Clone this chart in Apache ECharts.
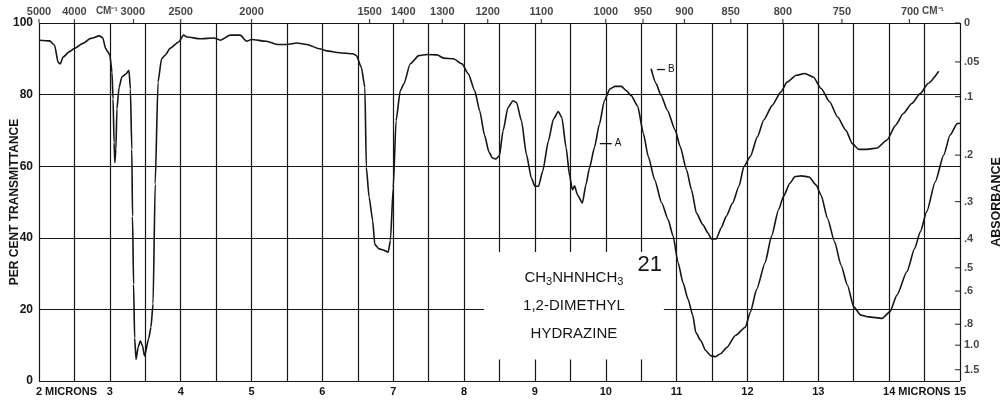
<!DOCTYPE html>
<html>
<head>
<meta charset="utf-8">
<script src="https://cdn.jsdelivr.net/npm/echarts/dist/echarts.min.js"></script>
<style>
  html, body { margin: 0; padding: 0; background: #fff; }
  #chart { width: 1005px; height: 400px; }
</style>
</head>
<body>
<div id="chart"></div>
<script>
// Infrared spectrum of 1,2-dimethyl hydrazine: wavelength (microns) vs per cent transmittance.

// Trace A: [wavelength µm, % transmittance]
const traceA = [
  [2.00,95.2],[2.15,95.0],[2.22,93.8],[2.27,89.0],[2.30,88.6],[2.34,90.5],[2.43,92.0],[2.50,92.9],
  [2.62,94.3],[2.73,95.7],[2.85,96.4],[2.90,95.9],[2.94,92.9],[2.97,92.0],[3.00,91.0],[3.03,86.3],
  [3.045,78.8],[3.06,66.6],[3.07,61.0],[3.085,64.7],[3.10,76.0],[3.13,82.0],[3.17,85.0],[3.23,85.8],
  [3.27,86.8],[3.29,81.6],[3.31,64.7],[3.32,46.0],[3.335,27.0],[3.35,12.0],[3.37,6.0],[3.40,9.5],
  [3.43,11.2],[3.46,9.9],[3.49,7.0],[3.55,12.0],[3.58,15.0],[3.61,21.5],[3.64,55.0],[3.68,83.5],
  [3.73,90.0],[3.78,91.0],[3.85,92.9],[3.97,94.7],[4.04,96.6],[4.09,96.1],[4.28,95.6],[4.47,95.8],
  [4.56,95.2],[4.70,96.6],[4.84,96.6],[4.93,94.9],[5.00,95.4],[5.21,94.9],[5.36,94.0],[5.50,94.0],
  [5.64,94.4],[5.78,94.0],[5.96,92.8],[6.06,92.2],[6.24,91.7],[6.43,91.4],[6.48,90.9],[6.55,87.6],
  [6.60,82.0],[6.62,59.7],[6.66,51.3],[6.71,44.8],[6.74,38.1],[6.80,36.9],[6.87,36.5],[6.93,36.0],
  [6.96,39.3],[7.00,54.0],[7.04,72.7],[7.10,81.1],[7.15,83.0],[7.24,88.6],[7.36,90.9],[7.48,91.2],
  [7.62,91.1],[7.71,90.2],[7.85,90.0],[7.97,88.6],[8.06,85.8],[8.15,81.1],[8.22,75.5],[8.29,68.6],
  [8.35,64.0],[8.40,62.3],[8.45,62.0],[8.50,63.0],[8.55,69.9],[8.62,76.4],[8.69,78.3],[8.74,77.8],
  [8.81,72.7],[8.88,63.3],[8.95,56.7],[9.00,54.4],[9.05,54.4],[9.11,58.6],[9.19,67.0],[9.26,73.1],
  [9.33,75.3],[9.38,73.6],[9.44,65.2],[9.49,57.2],[9.53,53.4],[9.56,54.5],[9.60,52.0],[9.67,49.7],
  [9.72,54.8],[9.77,59.5],[9.84,65.2],[9.91,71.7],[9.98,78.3],[10.06,81.6],[10.13,82.3],[10.22,82.3],
  [10.29,81.1],[10.36,79.7],[10.45,76.8],[10.53,69.2],[10.60,62.7],[10.69,56.2],[10.79,49.7],[10.88,45.1],
  [10.95,40.5],[11.02,33.1],[11.09,27.5],[11.16,22.9],[11.23,18.2],[11.27,13.6],[11.34,11.3],[11.41,8.5],
  [11.48,7.1],[11.55,6.8],[11.62,7.6],[11.71,9.4],[11.83,12.7],[11.97,15.0],[12.04,19.2],[12.13,25.6],
  [12.25,33.1],[12.34,40.5],[12.44,47.9],[12.51,51.6],[12.60,55.3],[12.67,57.1],[12.76,57.3],[12.87,57.0],
  [12.97,54.7],[13.04,51.9],[13.13,45.4],[13.23,38.9],[13.32,32.4],[13.41,26.8],[13.50,20.7],[13.60,18.4],
  [13.71,17.9],[13.90,17.5],[14.01,19.3],[14.11,24.0],[14.25,30.5],[14.36,37.0],[14.44,41.7],[14.53,47.3],
  [14.65,55.6],[14.77,63.1],[14.86,68.7],[14.96,71.9],[15.00,72.0]
];

// Trace B (thinner film, 10.6–14.7 µm): [wavelength µm, % transmittance]
const traceB = [
  [10.64,87.2],[10.71,83.1],[10.78,79.8],[10.87,75.6],[10.98,70.1],[11.05,65.5],[11.14,59.0],[11.21,53.4],
  [11.28,46.9],[11.37,43.7],[11.44,41.4],[11.49,39.7],[11.56,39.7],[11.63,42.8],[11.70,46.0],[11.79,49.7],
  [11.88,54.4],[11.95,59.9],[12.04,62.7],[12.14,68.2],[12.23,72.9],[12.35,77.0],[12.47,80.7],[12.56,83.5],
  [12.69,85.4],[12.81,85.9],[12.93,84.9],[13.04,81.7],[13.16,78.0],[13.27,73.8],[13.39,70.0],[13.48,66.3],
  [13.57,64.7],[13.69,64.7],[13.83,65.1],[13.97,67.3],[14.09,71.4],[14.20,74.7],[14.32,77.5],[14.44,80.3],
  [14.55,83.1],[14.70,86.5]
];

// Wavenumber scale along the top (cm-1)
const wavenumbers = [5000, 4000, 3000, 2500, 2000, 1500, 1400, 1300, 1200, 1100, 1000, 950, 900, 850, 800, 750, 700];

// Absorbance scale along the right edge
const absorbanceTicks = [0, 0.05, 0.1, 0.2, 0.3, 0.4, 0.5, 0.6, 0.8, 1.0, 1.5];
const absorbanceLabels = ['0', '.05', '.1', '.2', '.3', '.4', '.5', '.6', '.8', '1.0', '1.5'];

// Compound caption
const compoundLines = ['CH3NHNHCH3', '1,2-DIMETHYL', 'HYDRAZINE'];
const spectrumNumber = '21';

const FONT = '"Liberation Sans", Arial, sans-serif';
const INK = '#151515';

const captionBox = [[8.28, 6], [10.82, 36]];
const numberAt = [10.62, 32.3];
const tagA = [10.0, 66.3];
const tagB = [10.78, 87.0];

const chart = echarts.init(document.getElementById('chart'), null, { renderer: 'canvas' });

const boldLabel = { fontFamily: FONT, fontWeight: 'bold', fontSize: 11, color: INK };

const option = {
  backgroundColor: '#fff',
  animation: false,
  grid: { left: 39, right: 45, top: 23, bottom: 19, outerBoundsMode: 'none' },
  xAxis: [{
    type: 'value', min: 2, max: 15, interval: 0.5,
    axisLine: { show: false }, axisTick: { show: false },
    splitLine: { show: true, lineStyle: { color: INK, width: 1.2 } },
    axisLabel: Object.assign({}, boldLabel, {
      margin: 5,
      formatter: v => {
        if (Math.abs(v - Math.round(v)) > 1e-6) return '';
        if (v === 2 || v === 14) return '{pad| }' + v + '{u| MICRONS}';
        return String(v);
      },
      rich: { pad: { width: 55 }, u: boldLabel }
    })
  }],
  yAxis: [{
    type: 'value', min: 0, max: 100, interval: 20, position: 'left',
    axisLine: { show: false }, axisTick: { show: false },
    splitLine: { show: true, lineStyle: { color: INK, width: 1.2 } },
    axisLabel: Object.assign({}, boldLabel, { fontSize: 12, margin: 6 }),
    name: 'PER CENT TRANSMITTANCE', nameLocation: 'middle', nameGap: 18, nameRotate: 90,
    nameMoveOverlap: false,
    nameTextStyle: Object.assign({}, boldLabel, { fontSize: 12 })
  }, {
    type: 'value', min: 0, max: 100, position: 'right',
    axisLine: { show: false }, axisTick: { show: false }, axisLabel: { show: false },
    splitLine: { show: false },
    name: 'ABSORBANCE', nameLocation: 'middle', nameGap: 30, nameRotate: 90,
    nameMoveOverlap: false,
    nameTextStyle: Object.assign({}, boldLabel, { fontSize: 12.5 })
  }],
  series: [
    {
      name: 'A', type: 'line', data: traceA, showSymbol: false, smooth: 0.2, smoothMonotone: 'x',
      lineStyle: { color: INK, width: 1.6 }, z: 5,
      markArea: {
        silent: true,
        itemStyle: { color: '#fff' },
        label: {
          show: true, position: 'inside', color: INK, fontFamily: FONT, fontSize: 15, lineHeight: 28,
          formatter: () => compoundLines
            .map(l => '{t|' + l.replace(/(\d)(?=[A-Z]|$)/g, (m, d, off) => /[A-Z]/.test(l[off - 1]) ? '}{s|' + d + '}{t|' : d) + '}')
            .join('\n'),
          rich: {
            t: { fontFamily: FONT, fontSize: 15, color: INK, lineHeight: 28 },
            s: { fontFamily: FONT, fontSize: 11, color: INK, lineHeight: 28, padding: [8, 0, 0, 0] }
          }
        },
        data: [[{ xAxis: captionBox[0][0], yAxis: captionBox[0][1] }, { xAxis: captionBox[1][0], yAxis: captionBox[1][1] }]]
      },
      markPoint: {
        silent: true,
        data: [
          { coord: numberAt, symbol: 'circle', symbolSize: 0,
            label: { show: true, position: 'inside', formatter: spectrumNumber, fontFamily: FONT, fontSize: 22, color: INK } },
          { coord: tagA, symbol: 'rect', symbolSize: [12, 1.3], itemStyle: { color: INK },
            label: { show: true, position: 'right', distance: 3, formatter: 'A', fontFamily: FONT, fontSize: 10, color: INK } }
        ]
      }
    },
    {
      name: 'B', type: 'line', data: traceB, showSymbol: false, smooth: 0.2, smoothMonotone: 'x',
      lineStyle: { color: INK, width: 1.6 }, z: 5,
      markPoint: {
        silent: true,
        data: [
          { coord: tagB, symbol: 'rect', symbolSize: [8, 1.3], itemStyle: { color: INK },
            label: { show: true, position: 'right', distance: 3, formatter: 'B', fontFamily: FONT, fontSize: 10, color: INK } }
        ]
      }
    },
    {
      // wavenumber scale on the top edge
      name: 'cm-1', type: 'scatter', clip: false, silent: true,
      data: wavenumbers.map(w => ({ value: [10000 / w, 100], name: String(w) })),
      symbol: 'rect', symbolSize: [1.2, 4], symbolOffset: [0, -2], itemStyle: { color: INK },
      label: {
        show: true, position: 'top', distance: 2, color: INK, fontFamily: FONT, fontWeight: 'bold', fontSize: 11,
        formatter: p => {
          if (p.name === '3000') return '{u|CM\u207B\u00B9 }3000{pad| }';
          if (p.name === '700') return '{pad| }700{u| CM\u207B\u00B9}';
          return p.name;
        },
        rich: {
          u: { fontFamily: FONT, fontWeight: 'bold', fontSize: 10, color: INK },
          pad: { width: 26 }
        }
      }
    },
    {
      // absorbance scale on the right edge
      name: 'absorbance', type: 'scatter', clip: false, silent: true,
      data: absorbanceTicks.map((a, i) => ({ value: [15, 100 * Math.pow(10, -a)], name: absorbanceLabels[i] })),
      symbol: 'rect', symbolSize: [5, 1.2], symbolOffset: [-2.5, 0], itemStyle: { color: INK },
      label: {
        show: true, position: 'right', distance: 4, color: INK, fontFamily: FONT, fontWeight: 'bold', fontSize: 11,
        formatter: p => p.name
      }
    }
  ]
};

chart.setOption(option);
</script>
</body>
</html>
